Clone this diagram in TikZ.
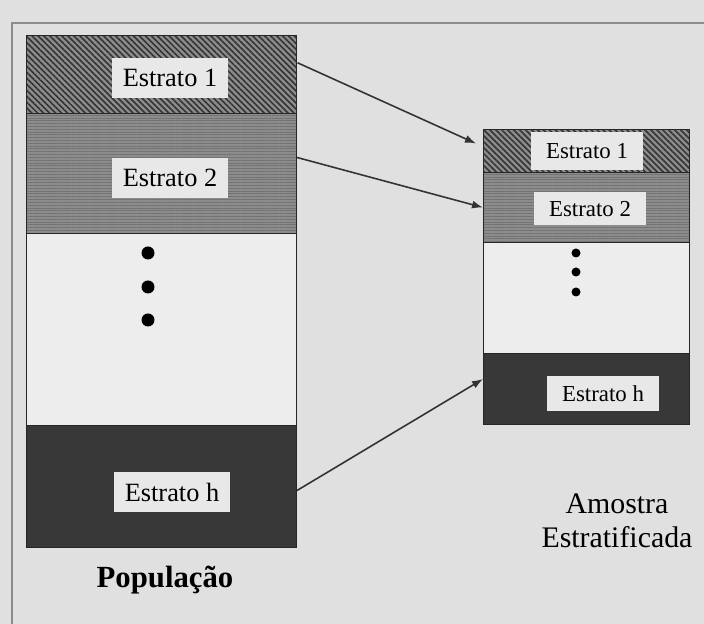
\documentclass[tikz,border=0pt]{standalone}
\usepackage{fontspec}
\setmainfont{Liberation Serif}
\usetikzlibrary{patterns.meta,arrows.meta}
\definecolor{paper}{gray}{0.88}
\definecolor{boxgray}{gray}{0.91}
\definecolor{pale}{gray}{0.93}
\tikzset{
  band/.style={draw=black!85, line width=0.6pt, inner sep=0pt, anchor=north west},
  hatch/.style={preaction={fill=black!45}, pattern={Lines[angle=-45, distance=2.4pt, line width=0.9pt]}, pattern color=black!80},
  stripe/.style={preaction={fill=black!45}, pattern={Lines[angle=0, distance=1.6pt, line width=0.5pt]}, pattern color=black!55},
  bigbox/.style={fill=boxgray, inner sep=0pt, minimum width=2.32cm, minimum height=0.8cm, font=\fontsize{15}{18}\selectfont},
  smallbox/.style={fill=boxgray, inner sep=0pt, minimum width=2.26cm, minimum height=0.7cm, font=\fontsize{13}{16}\selectfont},
  arr/.style={-{Latex[length=2.2mm,width=1.6mm]}, line width=0.9pt, draw=black!80}
}
\begin{document}
\begin{tikzpicture}[x=0.02cm, y=-0.02cm]
\useasboundingbox (0,0) rectangle (704,624);
\clip (0,0) rectangle (704,624);
\fill[paper] (0,0) rectangle (704,624);
\draw[black!45, line width=0.6pt] (12,660) -- (12,23) -- (740,23);
% populacao
\node[band, hatch, minimum width=5.4cm, minimum height=1.56cm] (pop1) at (26,35) {};
\node[band, stripe, minimum width=5.4cm, minimum height=2.4cm] (pop2) at (26,113) {};
\node[band, fill=pale, minimum width=5.4cm, minimum height=3.84cm] (popw) at (26,233) {};
\node[band, fill=black!78, minimum width=5.4cm, minimum height=2.44cm] (poph) at (26,425) {};
\node[bigbox] (lab1) at (170,78) {Estrato 1};
\node[bigbox] (lab2) at (170,178) {Estrato 2};
\node[bigbox] (labh) at (172,492) {Estrato h};
\foreach \y in {253,287,320}
  \fill (148,\y) circle (6.5);
\node[font=\fontsize{17.5}{21}\selectfont\bfseries] (pop) at (165,580) {População};
% amostra
\node[band, hatch, minimum width=4.12cm, minimum height=0.86cm] (amo1) at (483,129) {};
\node[band, stripe, minimum width=4.12cm, minimum height=1.4cm] (amo2) at (483,172) {};
\node[band, fill=pale, minimum width=4.12cm, minimum height=2.22cm] (amow) at (483,242) {};
\node[band, fill=black!78, minimum width=4.12cm, minimum height=1.42cm] (amoh) at (483,353) {};
\node[smallbox, minimum height=0.76cm] (sam1) at (587,151) {Estrato 1};
\node[smallbox, minimum height=0.66cm] (sam2) at (590,209) {Estrato 2};
\node[smallbox] (samh) at (603,394) {Estrato h};
\foreach \y in {253,272,292}
  \fill (576,\y) circle (4.5);
\node[align=center, font=\fontsize{17}{19.5}\selectfont] (amo) at (617,521) {Amostra\\Estratificada};
% setas
\draw[arr] ([yshift=0.24cm]pop1.east) -- ([xshift=-0.14cm,yshift=0.15cm]amo1.west);
\draw[arr] ([yshift=0.32cm]pop2.east) -- (amo2.west);
\draw[arr] ([yshift=-0.08cm]poph.east) -- ([yshift=0.2cm]amoh.west);
\end{tikzpicture}
\end{document}
